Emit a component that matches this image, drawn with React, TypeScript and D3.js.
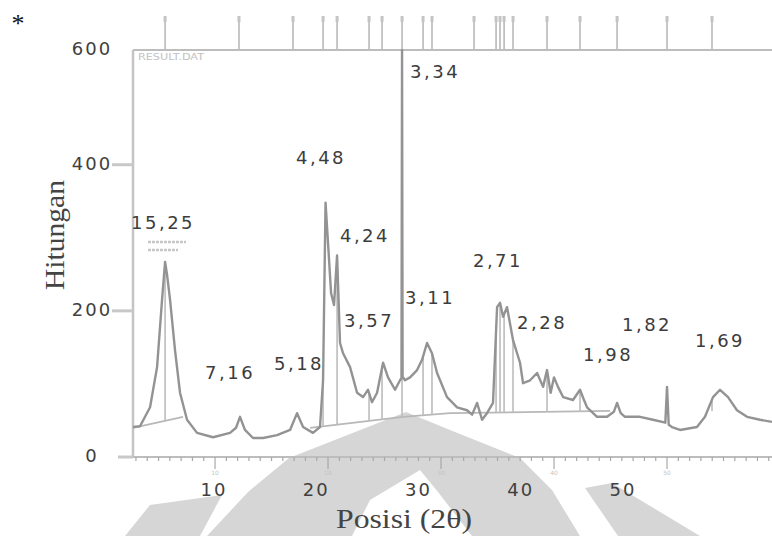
import React from "react";
import * as d3 from "d3";

// ---- data (2θ in degrees, intensity in counts) ----
const twoTheta = [
  2.74, 3.36, 4.25, 4.87, 5.31, 5.58, 5.75, 6.02, 6.46, 6.9, 7.52, 8.41, 9.82, 11.33, 11.86, 12.21, 12.65,
  13.36, 14.25, 15.49, 16.64, 17.26, 17.79, 18.67, 19.29, 19.56, 19.78, 20.09, 20.27, 20.53, 20.8, 21.06,
  21.33, 21.95, 22.57, 23.1, 23.54, 23.89, 24.34, 24.87, 25.31, 25.93, 26.37, 26.5, 26.55, 26.6, 26.81,
  27.26, 27.88, 28.32, 28.76, 29.2, 29.65, 30.53, 31.42, 32.3, 32.75, 33.19, 33.63, 34.07, 34.6, 34.96,
  35.22, 35.49, 35.84, 36.37, 36.99, 37.26, 37.88, 38.5, 39.03, 39.38, 39.7, 40.0, 40.35, 40.8, 41.68,
  42.3, 42.6, 42.92, 43.81, 44.69, 45.3, 45.58, 45.9, 46.28, 47.61, 48.76, 49.85, 50.0, 50.15, 50.44,
  51.15, 52.65, 53.36, 54.07, 54.69, 55.4, 56.19, 57.08, 58.23, 59.29,
];
const counts = [
  41, 42, 68, 123, 215, 267, 250, 215, 146, 88, 51, 33, 27, 33, 40, 55, 37,
  26, 26, 30, 37, 60, 41, 33, 41, 105, 348, 270, 224, 208, 276, 156,
  142, 123, 88, 82, 92, 75, 88, 129, 109, 92, 105, 108, 557, 110, 105,
  109, 119, 133, 156, 142, 115, 82, 68, 64, 58, 74, 51, 60, 74, 205,
  211, 192, 205, 160, 129, 101, 105, 115, 96, 119, 88, 109, 96, 82, 78,
  92, 80, 68, 55, 55, 62, 74, 60, 55, 55, 51, 47, 96, 44, 41,
  37, 41, 55, 82, 92, 82, 64, 55, 51, 48,
];

// reference-pattern stick positions (2θ)
const stickTheta = [
  5.58, 12.12, 16.9, 19.56, 20.8, 23.63, 24.78, 26.55, 28.41, 29.2, 32.92, 34.87, 35.22, 35.58, 36.37,
  39.38, 42.3, 45.58, 50.0, 53.98,
];

// fitted background lines
const bgTheta1 = [2.74, 7.17];
const bgCounts1 = [40, 55];
const bgTheta2 = [18.41, 26.64, 30.8, 44.96];
const bgCounts2 = [40, 55, 60, 63];

// d-spacing labels (Å) and their anchor in data units
const peakLabels = ["15,25", "7,16", "5,18", "4,48", "4,24", "3,57", "3,34", "3,11", "2,71", "2,28", "1,98", "1,82", "1,69"];
const labelTheta = [5.4, 11.33, 17.43, 19.38, 23.27, 23.63, 29.47, 29.03, 35.04, 38.94, 44.78, 48.23, 54.69];
const labelCount = [322, 116, 129, 411, 304, 188, 528, 219, 270, 185, 141, 182, 160];

const yTicks = [0, 200, 400, 600];
const xTicks = [10, 20, 30, 40, 50];

const NUM_FONT = "'DejaVu Sans', Verdana, sans-serif";
const SERIF = "'Liberation Serif', 'Times New Roman', serif";

export default function App() {
  const W = 772;
  const H = 536;
  const left = 133;
  const right = 772;
  const top = 50;
  const bottom = 457;

  const x = d3.scaleLinear().domain([2.74, 59.29]).range([left, right]);
  const y = d3.scaleLinear().domain([0, 557]).range([bottom, top]);
  // the author's overlaid tick numbers sit on a slightly compressed spacing
  const xLab = d3.scaleLinear().domain([10, 50]).range([214, 623]);

  const line = d3
    .line<number>()
    .x((_, i) => x(twoTheta[i]))
    .y((d) => y(d));

  const curveAt = d3.scaleLinear().domain(twoTheta).range(counts);
  const bgAt = d3
    .scaleLinear()
    .domain([...bgTheta1, ...bgTheta2])
    .range([...bgCounts1, ...bgCounts2])
    .clamp(true);

  const bgLine = (ts: number[], cs: number[]) =>
    d3
      .line<number>()
      .x((_, i) => x(ts[i]))
      .y((d) => y(d))(cs) as string;

  const minorTicks = d3.range(3, 60, 1);

  return (
    <svg
      width={W}
      height={H}
      style={{ position: "absolute", left: 0, top: 0, background: "#fff" }}
    >
      <defs>
        <clipPath id="plot">
          <rect x={left} y={top - 1} width={right - left} height={bottom - top + 1} />
        </clipPath>
      </defs>

      {/* scanned-page watermark */}
      <g fill="#d6d6d6">
        <polygon points="406,412 455,432 520,458 552,490 580,536 207,536 248,492 289,458" />
        <polygon points="150,505 222,495 200,536 125,536" />
        <polygon points="585,488 612,483 700,536 618,536" />
      </g>
      <g fill="#ffffff">
        <polygon points="420,470 438,492 472,536 352,536 370,500" />
      </g>

      {/* top reference sticks */}
      <g stroke="#b4b4b4" strokeWidth={1.5}>
        {stickTheta.map((t, i) => (
          <g key={i}>
            <line x1={x(t)} x2={x(t)} y1={16} y2={top} />
            <rect x={x(t) - 1.5} y={16} width={3} height={6} fill="#c4c4c4" stroke="none" />
          </g>
        ))}
      </g>

      {/* frame */}
      <line x1={left} x2={right} y1={top} y2={top} stroke="#bdbdbd" strokeWidth={2} />
      <line x1={left} x2={left} y1={top} y2={bottom} stroke="#c4c4c4" strokeWidth={2.5} />
      <text x={138} y={60} fontSize={8} fill="#c2c2c2" fontFamily={NUM_FONT} textLength={66} lengthAdjust="spacingAndGlyphs">
        RESULT.DAT
      </text>

      {/* background lines */}
      <g fill="none" stroke="#b8b8b8" strokeWidth={1.8}>
        <path d={bgLine(bgTheta1, bgCounts1)} />
        <path d={bgLine(bgTheta2, bgCounts2)} />
      </g>

      {/* drop lines at reference positions */}
      <g stroke="#bcbcbc" strokeWidth={1.6} clipPath="url(#plot)">
        {stickTheta
          .filter((t) => curveAt(t) - bgAt(t) > 15)
          .map((t, i) => (
            <line key={i} x1={x(t)} x2={x(t)} y1={y(Math.min(bgAt(t), curveAt(t)))} y2={y(curveAt(t))} />
          ))}
      </g>

      {/* diffraction curve */}
      <path
        d={line(counts) as string}
        fill="none"
        stroke="#939393"
        strokeWidth={2.4}
        strokeLinejoin="round"
        clipPath="url(#plot)"
      />

      {/* small label box above first peak */}
      <g stroke="#c6c6c6" strokeWidth={2.5} strokeDasharray="3 1">
        <line x1={148} x2={186} y1={242} y2={242} />
        <line x1={148} x2={178} y1={250} y2={250} />
      </g>

      {/* x axis */}
      <line x1={118} x2={right} y1={bottom} y2={bottom} stroke="#bdbdbd" strokeWidth={2} />
      <g stroke="#a8a8a8" strokeWidth={1.2}>
        {minorTicks.map((t) => (
          <line key={t} x1={x(t)} x2={x(t)} y1={bottom} y2={bottom + (t % 10 === 0 ? 12 : 4)} />
        ))}
      </g>
      {xTicks.map((t) => (
        <text key={"s" + t} x={x(t)} y={475} fontSize={6} fill="#c4c4c4" textAnchor="middle" fontFamily={NUM_FONT}>
          {t}
        </text>
      ))}
      {xTicks.map((t) => (
        <text
          key={t}
          x={xLab(t)}
          y={496}
          fontSize={18}
          letterSpacing={2}
          fill="#404040"
          textAnchor="middle"
          fontFamily={NUM_FONT}
        >
          {t}
        </text>
      ))}

      {/* y axis ticks & labels */}
      <g stroke="#c8c8c8" strokeWidth={3}>
        {yTicks
          .filter((v) => y(v) >= top + 5)
          .map((v) => (
            <line key={v} x1={v === 0 ? 118 : 112} x2={left} y1={y(v)} y2={y(v)} />
          ))}
      </g>
      {yTicks.map((v) => (
        <text
          key={v}
          x={92}
          y={Math.max(y(v), top) + 5}
          fontSize={18}
          letterSpacing={2}
          fill="#404040"
          textAnchor="middle"
          fontFamily={NUM_FONT}
        >
          {v}
        </text>
      ))}

      {/* peak d-spacing labels */}
      {peakLabels.map((s, i) => (
        <text
          key={s}
          x={x(labelTheta[i])}
          y={y(labelCount[i]) + 7}
          fontSize={18}
          letterSpacing={2.5}
          fill="#3c3c3c"
          textAnchor="middle"
          fontFamily={NUM_FONT}
        >
          {s}
        </text>
      ))}

      {/* axis titles */}
      <text
        transform="translate(64,235) rotate(-90)"
        fontSize={27}
        fill="#444"
        textAnchor="middle"
        fontFamily={SERIF}
        textLength={110}
        lengthAdjust="spacingAndGlyphs"
      >
        Hitungan
      </text>
      <text
        x={404}
        y={528}
        fontSize={27}
        fill="#444"
        textAnchor="middle"
        fontFamily={SERIF}
        textLength={136}
        lengthAdjust="spacingAndGlyphs"
      >
        Posisi (2θ)
      </text>

      <text x={18} y={32} fontSize={26} fill="#111" textAnchor="middle" fontFamily={SERIF}>
        *
      </text>
    </svg>
  );
}
